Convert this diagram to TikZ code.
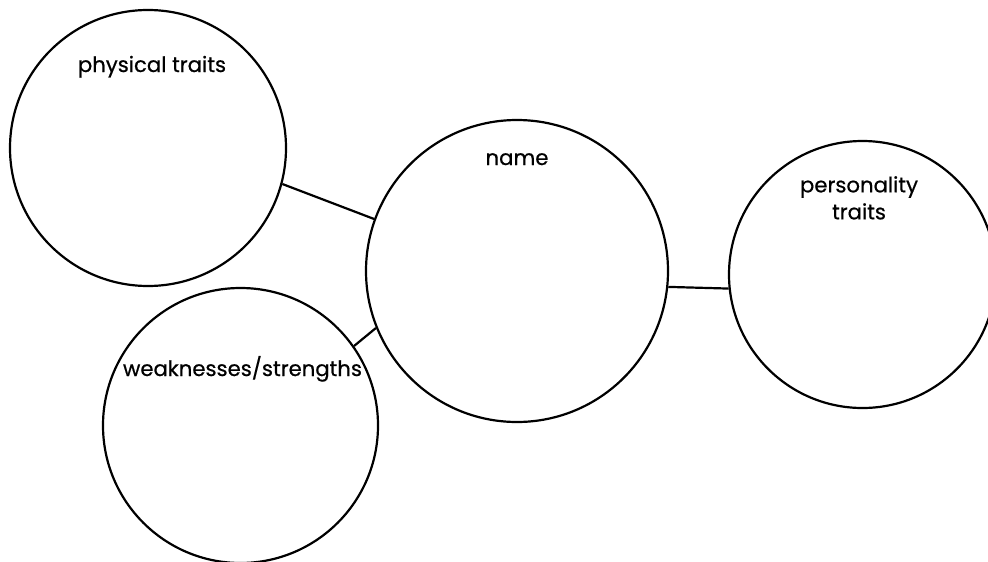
\documentclass[tikz,border=0pt]{standalone}
\usepackage{fontspec}
\setmainfont{Poppins}
\newfontfamily\lblfont{Poppins}[FakeBold=0.6]
\begin{document}
\begin{tikzpicture}[x=1pt,y=-1pt,
  bubble/.style={circle,draw=black,line width=2.2pt,inner sep=0pt,fill=none},
  lbl/.style={inner sep=0pt,anchor=base,align=center,font=\lblfont\fontsize{21.2}{27}\selectfont},
  link/.style={draw=black,line width=2.2pt}]
\useasboundingbox (0,0) rectangle (988,562);
\clip (0,0) rectangle (988,562);
\node[bubble,minimum size=276pt] (phys) at (148,148) {};
\node[bubble,minimum size=302pt] (name) at (517,271) {};
\node[bubble,minimum size=267pt] (pers) at (862.5,274.5) {};
\node[bubble,minimum size=275pt] (weak) at (240.5,425.5) {};
\node[lbl] (physlbl) at (152,72) {physical traits};
\node[lbl] (namelbl) at (517,165) {name};
\node[lbl,anchor=north] (perslbl) at (859,176) {personality\\traits};
\node[lbl] (weaklbl) at (242.5,376) {weaknesses/strengths};
\draw[link] (phys.-15) -- (name.160);
\draw[link] (name.-6.5) -- (pers.-174);
\draw[link] (weak.35) -- (name.-158);
\end{tikzpicture}
\end{document}
